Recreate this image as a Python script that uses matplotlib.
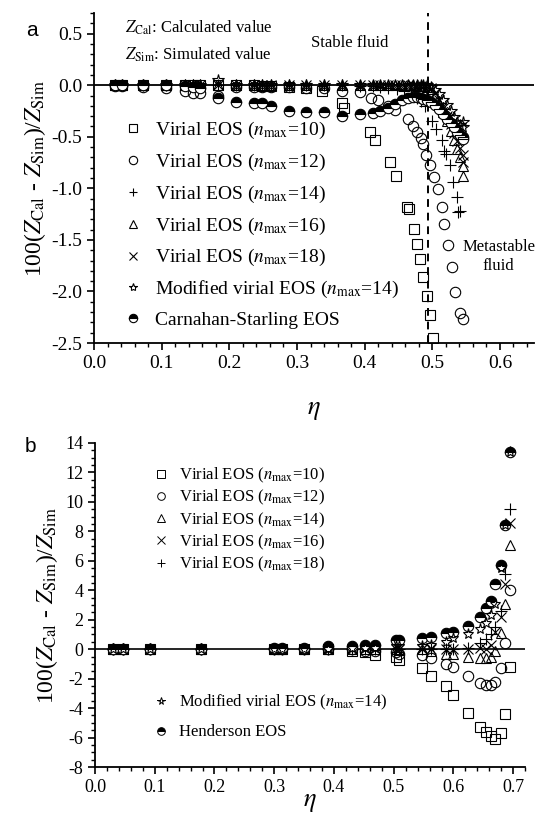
import matplotlib
matplotlib.use('Agg')
import matplotlib.pyplot as plt
from matplotlib.lines import Line2D
from matplotlib.ticker import MultipleLocator

plt.rcParams['font.family'] = ['Liberation Serif', 'DejaVu Serif']
plt.rcParams['mathtext.fontset'] = 'stix'
plt.rcParams['axes.unicode_minus'] = False

# ---- panel a data (eta, 100*(Zcal-Zsim)/Zsim) ----
stable_a = [0.031, 0.041, 0.072, 0.106, 0.134, 0.147, 0.157, 0.183, 0.210, 0.236,
            0.249, 0.262, 0.288, 0.314, 0.340, 0.366, 0.393, 0.412, 0.422, 0.434,
            0.445, 0.455, 0.464, 0.471, 0.477, 0.483, 0.487, 0.492]
meta_a = [0.498, 0.504, 0.510, 0.516, 0.522, 0.527, 0.532, 0.537, 0.541, 0.545, 0.546]

eta_a10 = [0.031, 0.041, 0.072, 0.106, 0.134, 0.147, 0.157, 0.183, 0.210, 0.236,
           0.249, 0.262, 0.288, 0.314, 0.337, 0.366, 0.370, 0.408, 0.415, 0.437,
           0.446, 0.463, 0.465, 0.473, 0.477, 0.482, 0.487, 0.492, 0.497, 0.501]
dev_a10 = [0.0, 0.0, 0.0, 0.0, 0.0, 0.0, 0.0, 0.0, 0.0, 0.0,
           -0.01, -0.01, -0.02, -0.03, -0.06, -0.17, -0.22, -0.45, -0.53, -0.74,
           -0.88, -1.18, -1.20, -1.39, -1.54, -1.69, -1.86, -2.04, -2.23, -2.45]

eta_a12 = [0.031, 0.041, 0.072, 0.106, 0.134, 0.147, 0.157, 0.183, 0.210, 0.236,
           0.249, 0.262, 0.288, 0.314, 0.340, 0.366, 0.393, 0.410, 0.420, 0.434,
           0.445, 0.464, 0.471, 0.477, 0.483, 0.486, 0.490, 0.496, 0.503, 0.508,
           0.514, 0.518, 0.523, 0.529, 0.533, 0.541, 0.545]
dev_a12 = [-0.01, -0.01, -0.02, -0.03, -0.06, -0.08, -0.08, -0.10, -0.02, -0.02,
           -0.02, -0.02, -0.02, -0.03, -0.03, -0.06, -0.07, -0.12, -0.14, -0.20,
           -0.24, -0.33, -0.40, -0.45, -0.51, -0.57, -0.68, -0.77, -0.89, -1.01,
           -1.18, -1.35, -1.55, -1.76, -2.01, -2.21, -2.27]

eta_a14 = [0.031, 0.041, 0.072, 0.106, 0.134, 0.147, 0.157, 0.183, 0.210, 0.236,
           0.249, 0.262, 0.288, 0.314, 0.340, 0.366, 0.393, 0.412, 0.422, 0.434,
           0.448, 0.458, 0.468, 0.477, 0.484, 0.489, 0.499, 0.506, 0.514, 0.518,
           0.521, 0.526, 0.530, 0.536, 0.538, 0.541]
dev_a14 = [0.0, 0.0, 0.0, 0.0, 0.0, 0.0, 0.0, 0.0, 0.0, 0.0,
           0.0, 0.0, 0.0, 0.0, 0.0, 0.0, -0.01, -0.01, -0.02, -0.03,
           -0.04, -0.06, -0.08, -0.12, -0.15, -0.20, -0.35, -0.42, -0.53, -0.64,
           -0.67, -0.77, -0.94, -1.08, -1.23, -1.22]

dev_a16 = [0.0] * 24 + [-0.01, -0.01, -0.01, -0.02] + \
          [-0.04, -0.10, -0.17, -0.26, -0.35, -0.44, -0.53, -0.62, -0.70, -0.78, -0.88]
dev_a18 = [0.0] * 24 + [-0.01, -0.01, -0.01, -0.02] + \
          [-0.03, -0.08, -0.14, -0.22, -0.30, -0.38, -0.46, -0.54, -0.61, -0.68, -0.74]
dev_amod = [0.0, 0.0, 0.0, 0.0, 0.0, 0.0, 0.0, 0.05, 0.0, 0.0] + [0.0] * 18 + \
           [-0.02, -0.05, -0.09, -0.14, -0.19, -0.25, -0.31, -0.36, -0.39, -0.41, -0.36]
dev_acs = [0.0, 0.0, 0.0, 0.0, -0.01, -0.02, -0.03, -0.12, -0.16, -0.17,
           -0.17, -0.20, -0.25, -0.26, -0.26, -0.30, -0.28, -0.27, -0.25, -0.22,
           -0.18, -0.14, -0.12, -0.11, -0.11, -0.12, -0.13, -0.14] + \
          [-0.16, -0.19, -0.23, -0.28, -0.33, -0.37, -0.41, -0.45, -0.48, -0.50, -0.52]

# ---- panel b data ----
eta_b = [0.030, 0.047, 0.092, 0.178, 0.300, 0.313, 0.350, 0.390, 0.430, 0.452,
         0.468, 0.503, 0.508, 0.547, 0.563, 0.587, 0.600, 0.625, 0.645, 0.655,
         0.663, 0.670, 0.680, 0.687, 0.695]
dev_b10 = [0, 0, 0, 0, 0, 0, 0, 0, -0.1, -0.2,
           -0.4, -0.5, -0.7, -1.3, -1.8, -2.5, -3.1, -4.3, -5.3, -5.6,
           -5.9, -6.1, -5.7, -4.4, -1.2]
dev_b12 = [0, 0, 0, 0, 0, 0, 0, 0, 0, -0.1,
           -0.1, -0.2, -0.3, -0.4, -0.6, -1.0, -1.2, -1.8, -2.3, -2.4,
           -2.45, -2.2, -1.3, 0.4, 4.0]
dev_b14 = [0, 0, 0, 0, 0, 0, 0, 0, 0, 0,
           0, 0, 0, 0, -0.1, -0.3, -0.3, -0.5, -0.6, -0.6,
           -0.5, -0.1, 1.1, 3.1, 7.1]
dev_b16 = [0, 0, 0, 0, 0, 0, 0, 0, 0, 0,
           0, 0, 0, 0, 0, 0, 0, 0.0, 0.1, 0.0,
           0.3, 1.2, 2.2, 4.4, 8.6]
dev_b18 = [0, 0, 0, 0, 0, 0, 0, 0, 0, 0,
           0, 0, 0, 0, 0, 0, 0, 0.1, 0.4, 0.7,
           1.0, 1.5, 2.6, 5.1, 9.5]
dev_bmod = [0, 0, 0, 0, 0, 0, 0, 0, 0.1, 0.1,
            0.1, 0.2, 0.2, 0.2, 0.3, 0.5, 0.75, 1.0, 1.4, 1.8,
            2.3, 3.1, 5.5, 8.4, 13.4]
dev_bhen = [0, 0, 0, 0, 0.1, 0.1, 0.1, 0.2, 0.25, 0.3,
            0.3, 0.6, 0.6, 0.75, 0.8, 1.1, 1.2, 1.6, 2.2, 2.8,
            3.3, 4.4, 5.7, 8.4, 13.4]

lab_a = ['Virial EOS ($n_{\\rm max}$=10)', 'Virial EOS ($n_{\\rm max}$=12)',
         'Virial EOS ($n_{\\rm max}$=14)', 'Virial EOS ($n_{\\rm max}$=16)',
         'Virial EOS ($n_{\\rm max}$=18)', 'Modified virial EOS ($n_{\\rm max}$=14)',
         'Carnahan-Starling EOS']
lab_b = ['Virial EOS ($n_{\\rm max}$=10)', 'Virial EOS ($n_{\\rm max}$=12)',
         'Virial EOS ($n_{\\rm max}$=14)', 'Virial EOS ($n_{\\rm max}$=16)',
         'Virial EOS ($n_{\\rm max}$=18)', 'Modified virial EOS ($n_{\\rm max}$=14)',
         'Henderson EOS']

ylab = r'100($Z_{\rm Cal}$ - $Z_{\rm Sim}$)/$Z_{\rm Sim}$'

open_kw = dict(ls='none', mfc='none', mec='black', mew=0.8, color='black')
half_kw = dict(ls='none', marker='o', fillstyle='top', mfc='black', mfcalt='white',
               mec='black', mew=0.8)


def style_axes(ax, size):
    for s in ['top', 'right']:
        ax.spines[s].set_visible(False)
    ax.spines['left'].set_linewidth(1.3)
    ax.spines['bottom'].set_linewidth(1.3)
    ax.tick_params(which='major', direction='out', length=5, width=1.2, labelsize=size)
    ax.tick_params(which='minor', direction='out', length=3, width=1.0)


fig = plt.figure(figsize=(5.35, 8.33), dpi=100)

# ---------------- panel a ----------------
ax1 = fig.add_axes([0.1757, 0.5882, 0.822, 0.3962])
ax1.axhline(0, color='black', lw=1.3, zorder=1)
ax1.axvline(0.494, color='black', lw=1.4, ls=(0, (4, 3)), zorder=1)
ms = 7.5
h = []
h.append(ax1.plot(eta_a10, dev_a10, marker='s', ms=6.5, **open_kw)[0])
h.append(ax1.plot(eta_a12, dev_a12, marker='o', ms=ms, **open_kw)[0])
h.append(ax1.plot(eta_a14, dev_a14, marker='+', ms=9, **open_kw)[0])
h.append(ax1.plot(stable_a + meta_a, dev_a16, marker='^', ms=ms, **open_kw)[0])
h.append(ax1.plot(stable_a + meta_a, dev_a18, marker='x', ms=ms, **open_kw)[0])
h.append(ax1.plot(stable_a + meta_a, dev_amod, marker='*', ms=8.5, **open_kw)[0])
h.append(ax1.plot(stable_a + meta_a, dev_acs, ms=ms, **half_kw)[0])
ax1.set_xlim(0, 0.65)
ax1.set_ylim(-2.5, 0.7)
ax1.xaxis.set_major_locator(MultipleLocator(0.1))
ax1.xaxis.set_minor_locator(MultipleLocator(0.02))
ax1.yaxis.set_minor_locator(MultipleLocator(0.1))
ax1.set_yticks([0.5, 0.0, -0.5, -1.0, -1.5, -2.0, -2.5])
ax1.set_yticklabels(['0.5', '0.0', '-0.5', '-1.0', '-1.5', '-2.0', '-2.5'])
style_axes(ax1, 14)
ax1.set_xlabel(r'$\eta$', fontsize=19, labelpad=20)
ax1.set_ylabel(ylab, fontsize=17, labelpad=2)

leg_h = [Line2D([], [], marker=l.get_marker(), ms=6, fillstyle=l.get_fillstyle(),
                mfc=l.get_markerfacecolor(), mfcalt=l.get_markerfacecoloralt(),
                mec='black', mew=0.8, ls='none') for l in h]
ax1.legend(leg_h, lab_a, loc='upper left', bbox_to_anchor=(0.045, 0.705),
           frameon=False, fontsize=14, labelspacing=0.55, handletextpad=0.6,
           handlelength=1.0, borderpad=0)

ax1.text(0.046, 0.56, r'$Z_{\rm Cal}$: Calculated value', fontsize=12, va='center')
ax1.text(0.046, 0.29, r'$Z_{\rm Sim}$: Simulated value', fontsize=12, va='center')
ax1.text(0.378, 0.41, 'Stable fluid', fontsize=12, ha='center', va='center')
ax1.text(0.598, -1.66, 'Metastable\nfluid', fontsize=12, ha='center', va='center',
         linespacing=1.3)

# ---------------- panel b ----------------
ax2 = fig.add_axes([0.1776, 0.0792, 0.804, 0.389])
ax2.axhline(0, color='black', lw=1.2, zorder=1)
hb = []
hb.append(ax2.plot(eta_b, dev_b10, marker='s', ms=6.5, **open_kw)[0])
hb.append(ax2.plot(eta_b, dev_b12, marker='o', ms=ms, **open_kw)[0])
hb.append(ax2.plot(eta_b, dev_b14, marker='^', ms=ms, **open_kw)[0])
hb.append(ax2.plot(eta_b, dev_b16, marker='x', ms=ms, **open_kw)[0])
hb.append(ax2.plot(eta_b, dev_b18, marker='+', ms=9, **open_kw)[0])
hb.append(ax2.plot(eta_b, dev_bhen, ms=ms, zorder=2, **half_kw)[0])
hb.append(ax2.plot(eta_b, dev_bmod, marker='*', ms=8, zorder=3, **open_kw)[0])
ax2.set_xlim(0, 0.72)
ax2.set_ylim(-8, 14)
ax2.xaxis.set_major_locator(MultipleLocator(0.1))
ax2.xaxis.set_minor_locator(MultipleLocator(0.02))
ax2.yaxis.set_major_locator(MultipleLocator(2))
ax2.yaxis.set_minor_locator(MultipleLocator(0.5))
style_axes(ax2, 13)
ax2.set_xlabel(r'$\eta$', fontsize=19, labelpad=-3)
ax2.set_ylabel(ylab, fontsize=17, labelpad=4)

leg_b = [Line2D([], [], marker=l.get_marker(), ms=5.5, fillstyle=l.get_fillstyle(),
                mfc=l.get_markerfacecolor(), mfcalt=l.get_markerfacecoloralt(),
                mec='black', mew=0.7, ls='none') for l in hb]
lg1 = ax2.legend(leg_b[:5], lab_b[:5], loc='upper left', bbox_to_anchor=(0.115, 0.955),
                 frameon=False, fontsize=12, labelspacing=0.18, handletextpad=0.6,
                 handlelength=1.0, borderpad=0)
ax2.add_artist(lg1)
ax2.legend([leg_b[6], leg_b[5]], [lab_b[5], lab_b[6]], loc='upper left',
           bbox_to_anchor=(0.115, 0.255), frameon=False, fontsize=12, labelspacing=0.75,
           handletextpad=0.6, handlelength=1.0, borderpad=0)

fig.text(32 / 535, 1 - 30 / 833, 'a', fontsize=15, family='Liberation Sans',
         ha='center', va='center')
fig.text(30 / 535, 1 - 447 / 833, 'b', fontsize=15, family='Liberation Sans',
         ha='center', va='center')

fig.savefig('out.png', dpi=100)
